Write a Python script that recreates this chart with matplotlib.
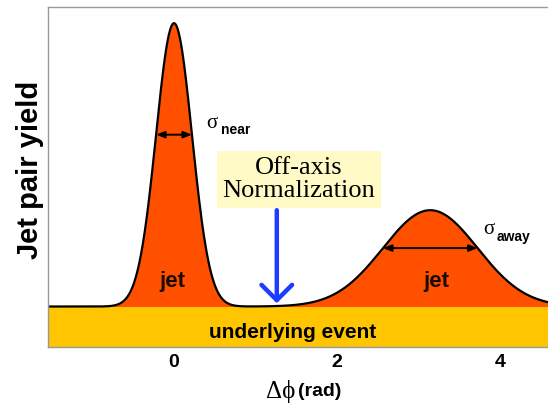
import numpy as np
import matplotlib.pyplot as plt

# jet peak parameters (delta-phi in rad, yield in arb. units)
peak_names = ["near", "away"]
peak_centers = [0.0, np.pi]
peak_sigmas = [0.22, 0.58]
peak_amps = [7.0, 2.38]
ue_level = 1.0  # underlying event pedestal

x_ticks = [0, 2, 4]
x_range = [-1.545, 4.585]
y_top = 8.4
norm_x = 1.26  # off-axis normalization point

RED = "#FF5000"
YELLOW = "#FFC500"
BLUE = "#1E3CFF"
SANS = "Liberation Sans"
SERIF = ["Liberation Serif", "DejaVu Serif"]

fig = plt.figure(figsize=(5.48, 4.11), dpi=100)
ax = fig.add_axes([48 / 548, 1 - 347 / 411, 1 - 48 / 548, 340 / 411])

dphi = np.linspace(x_range[0], x_range[1], 1200)
yld = np.full_like(dphi, ue_level)
for c, s, a in zip(peak_centers, peak_sigmas, peak_amps):
    yld += a * np.exp(-0.5 * ((dphi - c) / s) ** 2)

# underlying event band and jet fills
ax.fill_between(dphi, 0, ue_level, color=YELLOW, lw=0)
ax.fill_between(dphi, ue_level, yld, color=RED, lw=0)
ax.plot(dphi, yld, color="black", lw=1.6, solid_capstyle="butt")

# width arrows at +-sigma
for c, s, a in zip(peak_centers, peak_sigmas, peak_amps):
    lvl = ue_level + a * np.exp(-0.5)
    ax.annotate("", xy=(c - s, lvl), xytext=(c + s, lvl),
                arrowprops=dict(arrowstyle="<|-|>,head_length=0.5,head_width=0.2",
                                color="black", lw=1.4, shrinkA=0, shrinkB=0))

ax.text(0.39, 5.41, "σ", family=SERIF, fontsize=15)
ax.text(0.57, 5.26, "near", family=SANS, fontweight="bold", fontsize=10)
ax.text(3.79, 2.79, "σ", family=SERIF, fontsize=15)
ax.text(3.96, 2.62, "away", family=SANS, fontweight="bold", fontsize=10)

ax.text(-0.02, 1.63, "jet", family=SANS, fontweight="bold", fontsize=16,
        ha="center", va="center", color="#1a0a00")
ax.text(3.22, 1.61, "jet", family=SANS, fontweight="bold", fontsize=16,
        ha="center", va="center", color="#1a0a00")
ax.text(1.45, 0.37, "underlying event", family=SANS, fontweight="bold",
        fontsize=15, ha="center", va="center")

ax.text(1.53, 4.14, "Off-axis\nNormalization", family=SERIF, fontsize=19,
        ha="center", va="center", linespacing=1.05,
        bbox=dict(boxstyle="square,pad=0.22", fc="#FFFAC6", ec="none"))
ax.annotate("", xy=(norm_x, 1.08), xytext=(norm_x, 3.38),
            arrowprops=dict(arrowstyle="->,head_length=0.55,head_width=0.55",
                            color=BLUE, lw=3.2, mutation_scale=20,
                            shrinkA=0, shrinkB=0))

ax.set_xlim(x_range)
ax.set_ylim(0, y_top)
ax.set_xticks(x_ticks)
ax.set_xticklabels([str(t) for t in x_ticks], family=SANS,
                   fontweight="bold", fontsize=14)
ax.set_yticks([])
ax.tick_params(axis="x", length=0, pad=5)
for side in ["left", "top", "bottom"]:
    ax.spines[side].set_color("#999999")
    ax.spines[side].set_linewidth(1.0)
ax.spines["right"].set_visible(False)

fig.text(30 / 548, 1 - 170 / 411, "Jet pair yield", family=SANS,
         fontweight="bold", fontsize=21, rotation=90, ha="center", va="center")
fig.text(295 / 548, 1 - 391 / 411, "Δϕ", family=SERIF, fontsize=18,
         ha="right", va="center")
fig.text(298 / 548, 1 - 391 / 411, "(rad)", family=SANS, fontweight="bold",
         fontsize=14, ha="left", va="center")

fig.savefig("out.png", dpi=100)
